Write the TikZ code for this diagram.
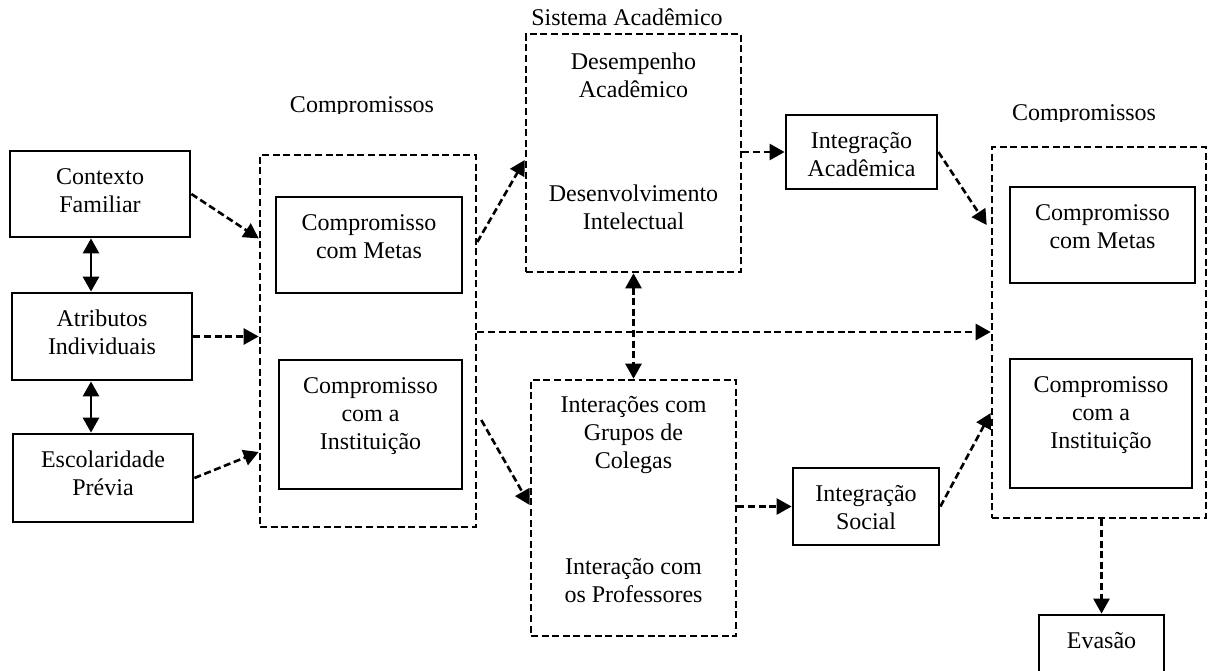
\documentclass[tikz,border=0pt]{standalone}
\usepackage{fontspec}
\setmainfont{Liberation Serif}
\usetikzlibrary{arrows.meta,fit}
\begin{document}
\begin{tikzpicture}[x=0.5pt,y=-0.5pt,
  bx/.style={draw, line width=1.4pt, inner sep=0pt},
  dbx/.style={draw, line width=1.3pt, inner sep=0pt, dash pattern=on 3.5pt off 1.8pt},
  txt/.style={align=center, inner sep=0pt, anchor=north, font=\fontsize{12}{14}\selectfont},
  lbl/.style={inner sep=0pt, anchor=base, font=\fontsize{12}{14}\selectfont},
  tip/.tip={Triangle[length=7.5pt,width=8pt]},
  solidarrow/.style={line width=1.4pt, tip-tip},
  dasharrow/.style={line width=1.3pt, dash pattern=on 3.5pt off 1.8pt, -tip},
  dashdouble/.style={line width=1.3pt, dash pattern=on 3.5pt off 1.8pt, tip-tip}]
\useasboundingbox (0,0) rectangle (1208,670);

% left column
\node[bx, fit={(10,151) (190,237)}] (cf) {};
\node[txt] (cft) at ([yshift=-7.2pt]cf.north) {\strut Contexto\\Familiar};
\node[bx, fit={(12,293) (192,380)}] (at) {};
\node[txt] (att) at ([yshift=-7.2pt]at.north) {\strut Atributos\\Individuais};
\node[bx, fit={(13,434) (193,522)}] (es) {};
\node[txt] (est) at ([yshift=-7.2pt]es.north) {\strut Escolaridade\\Prévia};

% left commitments
\begin{scope}
\clip (250,80) rectangle (480,113);
\node[lbl] (comLl) at (362,112) {Compromissos};
\end{scope}
\node[dbx, fit={(260,155) (476,527)}] (comL) {};
\node[bx, fit={(276,197) (462,293)}] (cmL) {};
\node[txt] (cmLt) at ([yshift=-7.2pt]cmL.north) {\strut Compromisso\\com Metas};
\node[bx, fit={(279,360) (462,489)}] (ciL) {};
\node[txt] (ciLt) at ([yshift=-7.2pt]ciL.north) {\strut Compromisso\\com a\\Instituição};

% academic system
\node[lbl] (sisl) at (627,25) {Sistema Acadêmico};
\node[dbx, fit={(526,34) (741,272)}] (sis) {};
\node[txt] (sist1) at ([yshift=-8.2pt]sis.north) {\strut Desempenho\\Acadêmico};
\node[txt] (sist2) at ([yshift=-74.2pt]sis.north) {\strut Desenvolvimento\\Intelectual};

% social system
\node[dbx, fit={(531,380) (736,636)}] (inter) {};
\node[txt] (intert1) at ([yshift=-6.7pt]inter.north) {\strut Interações com\\Grupos de\\Colegas};
\node[txt] (intert2) at ([yshift=-87.7pt]inter.north) {\strut Interação com\\os Professores};

% integration
\node[bx, fit={(786,115) (937,189)}] (ia) {};
\node[txt] (iat) at ([yshift=-7.2pt]ia.north) {\strut Integração\\Acadêmica};
\node[bx, fit={(793,468) (939,545)}] (is) {};
\node[txt] (ist) at ([yshift=-7.2pt]is.north) {\strut Integração\\Social};

% right commitments
\begin{scope}
\clip (980,90) rectangle (1208,121);
\node[lbl] (comRl) at (1084,120) {Compromissos};
\end{scope}
\node[dbx, fit={(992,147) (1206,518)}] (comR) {};
\node[bx, fit={(1010,187) (1195,283)}] (cmR) {};
\node[txt] (cmRt) at ([yshift=-7.2pt]cmR.north) {\strut Compromisso\\com Metas};
\node[bx, fit={(1010,359) (1192,488)}] (ciR) {};
\node[txt] (ciRt) at ([yshift=-7.2pt]ciR.north) {\strut Compromisso\\com a\\Instituição};

% dropout
\node[bx, fit={(1039,615) (1164,690)}] (ev) {};
\node[txt] (evt) at ([yshift=-7.2pt]ev.north) {\strut Evasão};

% connectors
\draw[solidarrow] ([xshift=-4.5pt]cf.south) -- ([xshift=-4.5pt]cf.south |- at.north);
\draw[solidarrow] ([xshift=-5.5pt]at.south) -- ([xshift=-5.5pt]at.south |- es.north);
\draw[dasharrow] (cf.east) -- (comL.west |- cf.south);
\draw[dasharrow] (at.east) -- (at.east -| comL.west);
\draw[dasharrow] (es.east) -- (comL.west |- 0,452);
\draw[dasharrow] (comL.east |- 0,242) -- (sis.west |- 0,160);
\draw[dasharrow] (comL.east |- 0,332) -- (comR.west |- 0,332);
\draw[dasharrow] ([xshift=2pt]comL.east |- 0,420) -- (inter.west |- 0,505);
\draw[dashdouble] (sis.south) -- (inter.north);
\draw[dasharrow] (sis.east |- ia.west) -- (ia.west);
\draw[dasharrow] (inter.east |- is.west) -- (is.west);
\draw[dasharrow] (ia.east) -- ([xshift=-2pt]comR.west |- 0,225);
\draw[dasharrow] (is.east) -- (comR.west |- 0,413);
\draw[dasharrow] (comR.south -| ev.north) -- (ev.north);
\end{tikzpicture}
\end{document}
